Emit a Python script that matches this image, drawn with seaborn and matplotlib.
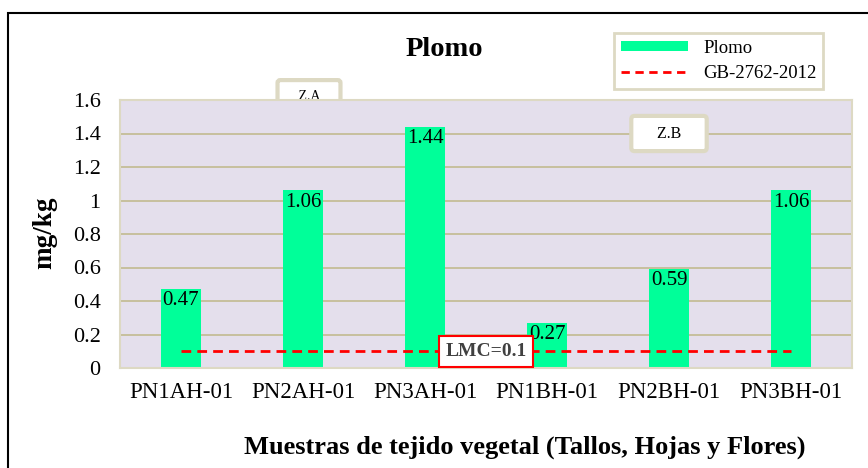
import matplotlib
matplotlib.use('Agg')
from matplotlib import pyplot as plt
from matplotlib.lines import Line2D
from matplotlib.patches import Patch, Rectangle
import pandas as pd
import seaborn as sns


SAMPLES = ['PN1AH-01', 'PN2AH-01', 'PN3AH-01', 'PN1BH-01', 'PN2BH-01', 'PN3BH-01']
PLOMO = [0.47, 1.06, 1.44, 0.27, 0.59, 1.06]
LMC = 0.1
Y_TICKS = [0, 0.2, 0.4, 0.6, 0.8, 1.0, 1.2, 1.4, 1.6]

GREEN = '#00FF99'
RED = '#FF0000'
TAN = '#C4BD97'
TAN_LIGHT = '#DDD9C3'
PLOT_BG = '#E4DFEC'

sns.set_style('white')
plt.rcParams['font.family'] = ['Liberation Serif', 'DejaVu Serif']
plt.rcParams['text.color'] = 'black'
plt.rcParams['xtick.color'] = 'black'
plt.rcParams['ytick.color'] = 'black'

data = pd.DataFrame({'muestra': SAMPLES, 'plomo': PLOMO})

fig = plt.figure(figsize=(8.68, 4.68), dpi=100)
ax = fig.add_axes([120 / 868, 1 - 368 / 468, 732 / 868, 268 / 468])
ax.set_facecolor(PLOT_BG)

sns.barplot(data=data, x='muestra', y='plomo', color=GREEN, width=0.32,
            linewidth=0, saturation=1, ax=ax, zorder=2)

# limite maximo (LMC)
ax.plot([0, len(SAMPLES) - 1], [LMC, LMC], color=RED, lw=2,
        dashes=(3.5, 2.2), zorder=3)

for i, v in enumerate(PLOMO):
    ax.annotate(f'{v:.2f}', (i, v), xytext=(0, -1.5), textcoords='offset points',
                ha='center', va='top', fontsize=15, color='black', zorder=4)

ax.set_ylim(0, 1.6)
ax.set_xlim(-0.5, len(SAMPLES) - 0.5)
ax.set_yticks(Y_TICKS)
ax.set_yticklabels([f'{t:g}' for t in Y_TICKS])
ax.yaxis.grid(True, color=TAN, lw=1.3, zorder=1)
ax.set_axisbelow(True)
ax.tick_params(axis='y', length=0, pad=14, labelsize=16)
ax.tick_params(axis='x', length=0, pad=10, labelsize=16.5)
ax.set_xlabel('')
ax.set_ylabel('')
for side, sp in ax.spines.items():
    sp.set_color(TAN_LIGHT)
    sp.set_linewidth(1.5)

ax.text(2.5, LMC, 'LMC=0.1', ha='center', va='center', fontsize=14,
        fontweight='bold', color='#404040', zorder=5,
        bbox=dict(boxstyle='square,pad=0.35', fc='white', ec=RED, lw=1.5))

ax.text(4.0, 1.40, '    Z.B    ', ha='center', va='center', fontsize=11.5,
        zorder=5,
        bbox=dict(boxstyle='round,pad=0.6,rounding_size=0.2', fc='white',
                  ec=TAN_LIGHT, lw=3))

# Z.A box sits behind the plot area
fig.text(309 / 868, 1 - 97 / 468, '   Z.A   ', ha='center', va='center',
         fontsize=10, zorder=-1,
         bbox=dict(boxstyle='round,pad=0.75,rounding_size=0.2', fc='white',
                   ec=TAN_LIGHT, lw=3))

fig.text(444 / 868, 1 - 50 / 468, 'Plomo', ha='center', va='center',
         fontsize=20.5, fontweight='bold')
fig.text(45 / 868, 1 - 233 / 468, 'mg/kg', ha='center', va='center',
         rotation=90, fontsize=19.5, fontweight='bold')
fig.text(525 / 868, 1 - 447 / 468,
         'Muestras de tejido vegetal (Tallos, Hojas y Flores)',
         ha='center', va='center', fontsize=19, fontweight='bold')

handles = [
    Patch(facecolor=GREEN, edgecolor='none', label='Plomo'),
    Line2D([0], [0], color=RED, lw=2, dashes=(3, 2), label='GB-2762-2012'),
]
leg = fig.legend(handles=handles, loc='upper right',
                 bbox_to_anchor=(823 / 868, 1 - 33 / 468), fontsize=13.5,
                 handlelength=3.6, handleheight=0.5, fancybox=False,
                 framealpha=1, edgecolor=TAN_LIGHT, borderpad=0.35,
                 labelspacing=0.45, borderaxespad=0)
leg.get_frame().set_linewidth(2)

# outer chart border
fig.patches.append(Rectangle((8 / 868, -0.2), 1.2, 1.2 - 13 / 468,
                             transform=fig.transFigure, fill=False,
                             ec='black', lw=1.5, zorder=10))

fig.savefig('out.png', dpi=100)
